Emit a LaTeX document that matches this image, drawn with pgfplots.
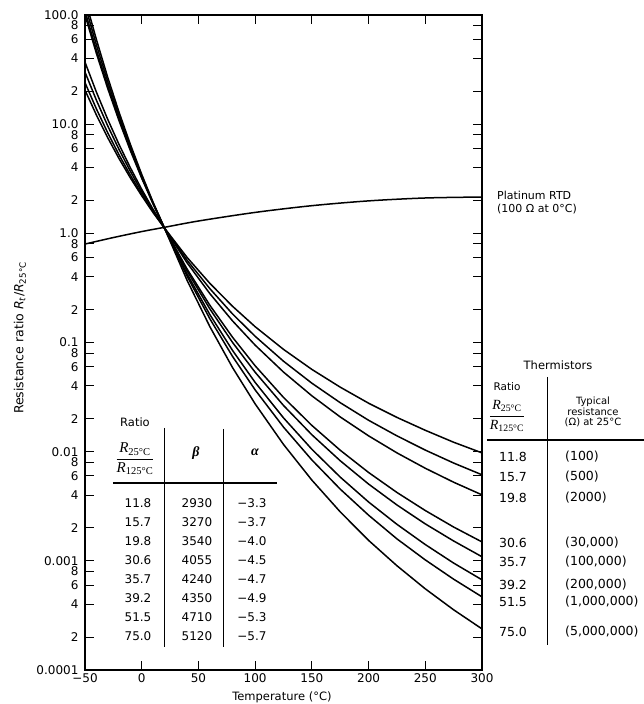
\documentclass[border=0pt]{standalone}
\usepackage{pgfplots}
\pgfplotsset{compat=1.18}
\usepackage{fontspec}
\setmainfont{DejaVu Sans}
\newfontfamily\serif{Liberation Serif}
\newcommand{\Rfrac}{$\displaystyle\frac{\hbox{{\serif\itshape R}\textsubscript{\serif 25°C}}}{\hbox{{\serif\itshape R}\textsubscript{\serif 125°C}}}$}
\tikzset{curve/.style={black, solid, line width=1.5pt, mark=none, line join=round}}
\begin{document}
\begin{tikzpicture}
\useasboundingbox (-85pt,-34pt) rectangle (559pt,670pt);
\begin{axis}[
  scale only axis, width=397pt, height=655pt,
  xmin=-50, xmax=300, ymode=log, ymin=0.0001, ymax=100,
  axis line style={line width=1.2pt},
  tick align=inside, tick pos=both,
  major tick length=9pt,
  tick style={line width=1pt, black},
  yminorticks=false, xminorticks=false,
  xtick={-50,0,50,100,150,200,250,300},
  xticklabels={−50,0,50,100,150,200,250,300},
  ytick={0.0001,0.0002,0.0004,0.0006,0.0008,0.001,0.002,0.004,0.006,0.008,0.01,0.02,0.04,0.06,0.08,0.1,0.2,0.4,0.6,0.8,1,2,4,6,8,10,20,40,60,80,100},
  yticklabels={0.0001,2,4,6,8,0.001,2,4,6,8,0.01,2,4,6,8,0.1,2,4,6,8,1.0,2,4,6,8,10.0,2,4,6,8,100.0},
  tick label style={font=\fontsize{12}{14}\selectfont},
  yticklabel style={xshift=-3pt},
  /pgf/number format/assume math mode=true,
  xlabel={Temperature (°C)},
  ylabel={Resistance ratio \textit{R}\textsubscript{\textit{t}}/\textit{R}\textsubscript{25°C}},
  label style={font=\fontsize{11.5}{13}\selectfont},
  xlabel style={at={(axis description cs:0.496,-0.0412)}, anchor=center},
  ylabel style={at={(axis description cs:-0.164,0.507)}, anchor=center, font=\fontsize{12.5}{14}\selectfont},
]
% Platinum RTD
\addplot[curve, smooth] coordinates {(-50,0.798) (-25,0.915) (0,1.038) (20,1.135) (50,1.297) (100,1.555) (150,1.792) (200,1.983) (250,2.108) (300,2.151)};
% Thermistors
\addplot[curve] coordinates {(-50,20.5) (-40,12.17) (-30,7.53) (-20,4.84) (-10,3.22) (0,2.21) (10,1.55) (20,1.12) (40,0.602) (60,0.349) (80,0.215) (100,0.1396) (125,0.0865) (150,0.0567) (175,0.0390) (200,0.0278) (225,0.0206) (250,0.0157) (275,0.0122) (300,0.00975)};
\addplot[curve] coordinates {(-50,24.0) (-40,13.84) (-30,8.35) (-20,5.24) (-10,3.41) (0,2.29) (10,1.58) (20,1.12) (40,0.567) (60,0.312) (80,0.183) (100,0.114) (125,0.0674) (150,0.0424) (175,0.0281) (200,0.0194) (225,0.01396) (250,0.01034) (275,0.00787) (300,0.00614)};
\addplot[curve] coordinates {(-50,30.0) (-40,16.63) (-30,9.67) (-20,5.87) (-10,3.70) (0,2.41) (10,1.62) (20,1.12) (40,0.537) (60,0.281) (80,0.158) (100,0.0946) (125,0.0536) (150,0.0325) (175,0.0208) (200,0.01397) (225,0.00975) (250,0.00705) (275,0.00525) (300,0.00402)};
\addplot[curve] coordinates {(-50,37.0) (-40,19.73) (-30,11.09) (-20,6.52) (-10,3.99) (0,2.53) (10,1.66) (20,1.12) (40,0.471) (60,0.220) (80,0.1120) (100,0.0612) (125,0.0314) (150,0.0174) (175,0.01031) (200,0.00645) (225,0.00423) (250,0.00289) (275,0.00204) (300,0.00149)};
\addplot[curve] coordinates {(-50,100) (-40,44.66) (-30,21.29) (-20,10.76) (-10,5.73) (0,3.20) (10,1.86) (20,1.12) (40,0.452) (60,0.2037) (80,0.1004) (100,0.0534) (125,0.0265) (150,0.01429) (175,0.00826) (200,0.00505) (225,0.00325) (250,0.00218) (275,0.00152) (300,0.00109)};
\addplot[curve] coordinates {(-49,100) (-40,47.9) (-30,22.52) (-20,11.24) (-10,5.91) (0,3.26) (10,1.88) (20,1.12) (40,0.4245) (60,0.1808) (80,0.0848) (100,0.0431) (125,0.0204) (150,0.01052) (175,0.00585) (200,0.00346) (225,0.00216) (250,0.00141) (275,0.000954) (300,0.00067)};
\addplot[curve] coordinates {(-47.5,100) (-40,53.4) (-30,24.56) (-20,12.01) (-10,6.20) (0,3.36) (10,1.90) (20,1.12) (40,0.405) (60,0.1655) (80,0.0748) (100,0.0368) (125,0.01679) (150,0.00840) (175,0.00454) (200,0.00262) (225,0.00159) (250,0.00102) (275,0.000679) (300,0.000468)};
\addplot[curve] coordinates {(-46,100) (-40,59.9) (-30,26.91) (-20,12.88) (-10,6.53) (0,3.47) (10,1.93) (20,1.12) (40,0.371) (60,0.1402) (80,0.0591) (100,0.0274) (125,0.01165) (150,0.00549) (175,0.00281) (200,0.00154) (225,0.000902) (250,0.000554) (275,0.000356) (300,0.000238)};
\end{axis}
% Platinum RTD label
\node[anchor=north west, align=left, inner sep=0pt, font=\fontsize{11}{12.5}\selectfont] at (412pt,479pt) {Platinum RTD\\(100 Ω at 0°C)};
% Left table
\begin{scope}[every node/.style={font=\fontsize{12}{14}\selectfont, inner sep=0pt}]
\node[font=\fontsize{11.5}{13}\selectfont] at (50pt,248pt) {Ratio};
\node[font=\fontsize{15}{17}\selectfont] at (50pt,211pt) {\Rfrac};
\node[font=\fontsize{14}{16}\selectfont\serif\itshape\bfseries] at (111pt,217pt) {β};
\node[font=\fontsize{14}{16}\selectfont\serif\itshape\bfseries] at (170pt,218pt) {α};
\draw[line width=1pt] (79pt,242pt) -- (79pt,23pt);
\draw[line width=1pt] (138pt,241pt) -- (138pt,23pt);
\draw[line width=1.1pt] (28pt,187pt) -- (192pt,187pt);
\foreach \r/\b/\a/\y in {11.8/2930/−3.3/167, 15.7/3270/−3.7/148, 19.8/3540/−4.0/129, 30.6/4055/−4.5/110, 35.7/4240/−4.7/91, 39.2/4350/−4.9/72, 51.5/4710/−5.3/53, 75.0/5120/−5.7/34}{
  \node at (53pt,\y pt) {\r};
  \node at (112pt,\y pt) {\b};
  \node at (167pt,\y pt) {\a};
}
\end{scope}
% Right table
\begin{scope}[every node/.style={font=\fontsize{12.5}{14}\selectfont, inner sep=0pt}]
\node[font=\fontsize{11.5}{13}\selectfont] at (473pt,305pt) {Thermistors};
\node[font=\fontsize{10.5}{12}\selectfont] at (422pt,283pt) {Ratio};
\node[font=\fontsize{14}{16}\selectfont] at (422pt,254pt) {\Rfrac};
\node[align=center, font=\fontsize{10}{10.5}\selectfont] at (508pt,258pt) {Typical\\resistance\\(Ω) at 25°C};
\draw[line width=1pt] (462pt,293pt) -- (462pt,25pt);
\draw[line width=1.1pt] (402pt,230pt) -- (559pt,230pt);
\foreach \r/\v/\y in {11.8/{(100)}/213, 15.7/{(500)}/193, 19.8/{(2000)}/172, 30.6/{(30,000)}/127, 35.7/{(100,000)}/108, 39.2/{(200,000)}/85, 51.5/{(1,000,000)}/68, 75.0/{(5,000,000)}/38}{
  \node at (428pt,\y pt) {\r};
  \node[anchor=west] at (480pt,\y pt) {\v};
}
\end{scope}
\end{tikzpicture}
\end{document}
